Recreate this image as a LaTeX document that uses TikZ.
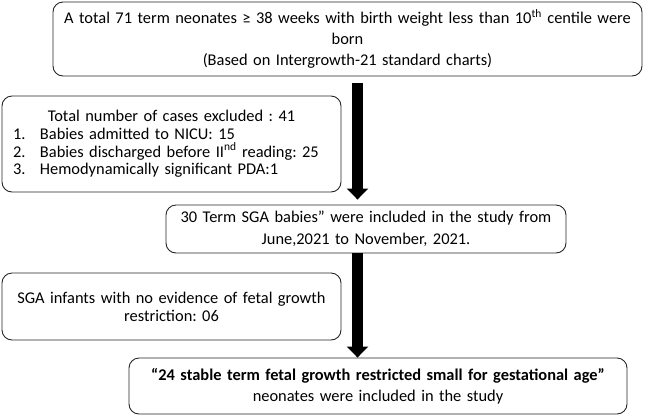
\documentclass[tikz,border=0pt]{standalone}
\usepackage{fontspec}
\setmainfont{Carlito}
\frenchspacing
\usetikzlibrary{arrows.meta}
\begin{document}
\begin{tikzpicture}[x=1pt,y=-1pt,
  box/.style={draw=black!85, line width=0.9pt, rounded corners=10pt, inner xsep=0pt, inner ysep=0pt, align=center, font=\frenchspacing\fontsize{16.4}{21}\selectfont},
  bigarrow/.style={line width=10.5pt, -{Triangle[width=21pt,length=11pt]}}
]
\useasboundingbox (0,0) rectangle (645,416);
\node[box, minimum width=589pt, minimum height=74pt, text width=589pt] (b1) at (347.5,39)
  {A total 71 term neonates ≥ 38 weeks with birth weight less than 10\textsuperscript{th} centile were\\born\\(Based on Intergrowth-21 standard charts)};
\node[box, minimum width=339pt, minimum height=96pt, text width=339pt, align=left, font=\frenchspacing\fontsize{16.4}{17.6}\selectfont] (b2) at (171.5,144)
  {\makebox[339pt][c]{Total number of cases excluded : 41}\\
   \hspace*{11pt}\makebox[27pt][l]{1.}Babies admitted to NICU: 15\\
   \hspace*{11pt}\makebox[27pt][l]{2.}Babies discharged before II\textsuperscript{nd} reading: 25\\
   \hspace*{11pt}\makebox[27pt][l]{3.}Hemodynamically significant PDA:1};
\node[box, minimum width=400pt, minimum height=48pt, text width=400pt, font=\frenchspacing\fontsize{16.4}{22}\selectfont] (b3) at (366,229)
  {30 Term SGA babies” were included in the study from\\June,2021 to November, 2021.};
\node[box, minimum width=339pt, minimum height=67pt, text width=339pt, font=\frenchspacing\fontsize{16.4}{18}\selectfont] (b4) at (171.5,306.5)
  {SGA infants with no evidence of fetal growth\\restriction: 06};
\node[box, minimum width=498pt, minimum height=56pt, text width=498pt] (b5) at (378,386)
  {\textbf{“24 stable term fetal growth restricted small for gestational age”}\\neonates were included in the study};
\coordinate (ax) at (357.5,0);
\draw[bigarrow, shorten <=7pt, shorten >=5pt] (b1.south -| ax) -- (b3.north -| ax);
\draw[bigarrow] (b3.south -| ax) -- (b5.north -| ax);
\end{tikzpicture}
\end{document}
